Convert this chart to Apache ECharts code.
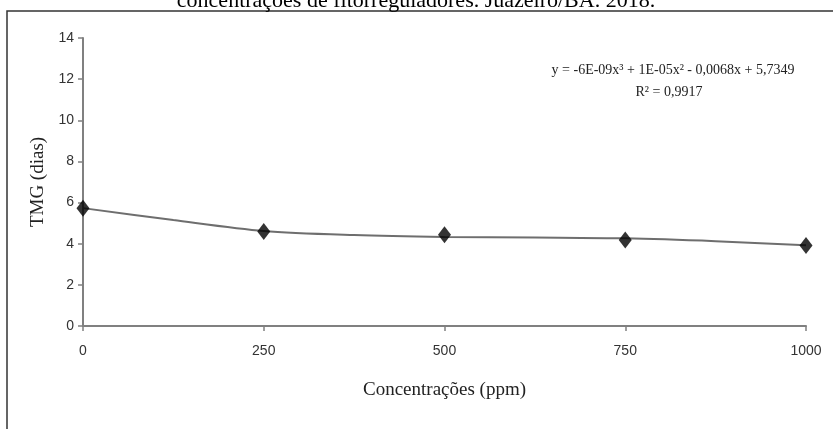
<!DOCTYPE html>
<html>
<head>
<meta charset="utf-8">
<script src="https://cdn.jsdelivr.net/npm/echarts@6/dist/echarts.min.js"></script>
<style>
  html, body { margin: 0; padding: 0; background: #fff; }
  #chart { width: 833px; height: 429px; }
</style>
</head>
<body>
<div id="chart"></div>
<script>
// observed means (TMG, dias) per concentration
const concentrations = [0, 250, 500, 750, 1000]
const tmg = [5.73, 4.59, 4.43, 4.18, 3.91]

// polynomial trend line
const trendX = [0, 125, 250, 375, 500, 625, 750, 875, 1000]
const trendY = [5.73, 5.15, 4.62, 4.42, 4.33, 4.3, 4.26, 4.12, 3.92]

const yTicks = [0, 2, 4, 6, 8, 10, 12, 14]

const serif = '"Liberation Serif", "DejaVu Serif", serif'
const sans = '"Liberation Sans", Arial, sans-serif'

const chart = echarts.init(document.getElementById('chart'))

const option = {
  animation: false,
  backgroundColor: '#fff',
  grid: { left: 83, right: 27, top: 38, bottom: 103 },
  xAxis: {
    type: 'value',
    min: 0,
    max: 1000,
    interval: 250,
    name: 'Concentrações (ppm)',
    nameLocation: 'middle',
    nameGap: 55,
    nameTextStyle: { fontFamily: serif, fontSize: 19, color: '#222' },
    axisLine: { lineStyle: { color: '#808080', width: 2 } },
    axisTick: { show: true, length: 5, lineStyle: { color: '#808080', width: 1.5 } },
    axisLabel: {
      fontFamily: sans, fontSize: 14, color: '#333', margin: 18,
      formatter: v => String(v)
    },
    splitLine: { show: false }
  },
  yAxis: {
    type: 'value',
    min: yTicks[0],
    max: yTicks[yTicks.length - 1],
    interval: 2,
    name: 'TMG (dias)',
    nameLocation: 'middle',
    nameGap: 28,
    nameTextStyle: { fontFamily: serif, fontSize: 19, color: '#222' },
    axisLine: { show: true, lineStyle: { color: '#808080', width: 2 } },
    axisTick: { show: true, length: 5, lineStyle: { color: '#808080', width: 1.5 } },
    axisLabel: { fontFamily: sans, fontSize: 14, color: '#333', margin: 9 },
    splitLine: { show: false }
  },
  series: [
    {
      name: 'tendência',
      type: 'line',
      smooth: 0.3,
      symbol: 'none',
      lineStyle: { color: '#6e6e6e', width: 2 },
      data: trendX.map((x, i) => [x, trendY[i]]),
      z: 2
    },
    {
      name: 'TMG',
      type: 'scatter',
      symbol: 'diamond',
      symbolSize: [13, 17],
      itemStyle: { color: '#000' },
      data: concentrations.map((x, i) => [x, tmg[i]]),
      z: 3
    }
  ],
  graphic: [
    {
      type: 'polyline',
      shape: { points: [[7, 429], [7, 11], [833, 11]] },
      style: { stroke: '#333', lineWidth: 1.5, fill: null }
    },
    {
      type: 'text',
      x: 416,
      y: 1,
      style: {
        text: 'concentrações de fitorreguladores. Juazeiro/BA. 2018.',
        fontFamily: serif,
        fontSize: 22,
        fill: '#000',
        align: 'center',
        verticalAlign: 'middle'
      }
    },
    {
      type: 'text',
      x: 673,
      y: 70,
      style: {
        text: 'y = -6E-09x³ + 1E-05x² - 0,0068x + 5,7349',
        fontFamily: serif,
        fontSize: 14,
        fill: '#222',
        align: 'center',
        verticalAlign: 'middle'
      }
    },
    {
      type: 'text',
      x: 669,
      y: 92,
      style: {
        text: 'R² = 0,9917',
        fontFamily: serif,
        fontSize: 14,
        fill: '#222',
        align: 'center',
        verticalAlign: 'middle'
      }
    }
  ]
}

chart.setOption(option)
</script>
</body>
</html>
